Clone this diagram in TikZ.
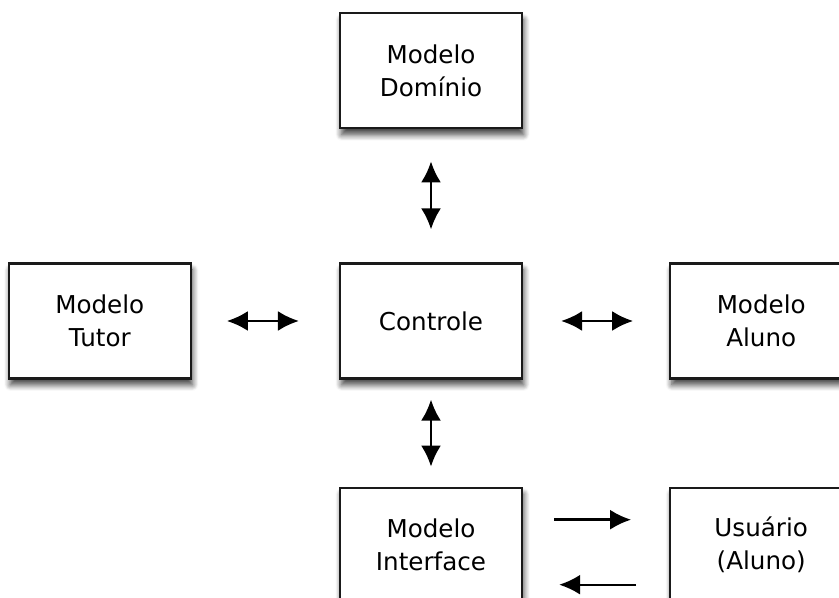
\documentclass[tikz,border=0pt]{standalone}
\usepackage{fontspec}
\setmainfont{DejaVu Sans}
\usepackage{xcolor}
\definecolor{darkgray}{HTML}{1A1A1A}
\usepackage{tikz}
\usetikzlibrary{positioning,arrows.meta,shadows.blur}

\begin{document}
\begin{tikzpicture}[font=\fontsize{12.3}{16.5}\selectfont,
		modulo/.style={
					rectangle, minimum width = 91pt, minimum height = 57.5pt, line width = 1.1pt,
					draw = darkgray, fill = white, align = center,
					blur shadow={shadow xshift=0.8pt, shadow yshift=-3.2pt, shadow blur steps=8, shadow blur radius=3pt, shadow opacity=75}},
		seta/.style={line width = 1.2pt, {Latex[length=10.5pt,width=10pt]}-{Latex[length=10.5pt,width=10pt]}},
		setadir/.style={line width = 1.2pt, -{Latex[length=10.5pt,width=10pt]}}]
		\useasboundingbox (-215.5pt,-138.5pt) rectangle (204pt,160.5pt);
		\node (C) [modulo] {Controle};
		\node (D) [modulo, above=66.5pt of C] {Modelo\\Domínio};
		\node (T) [modulo, left=73.5pt of C] {Modelo\\Tutor};
		\node (A) [modulo, right=73pt of C] {Modelo\\Aluno};
		\node (I) [modulo, below=53.5pt of C] {Modelo\\Interface};
		\node (U) [modulo, right=73pt of I] {Usuário\\(Aluno)};
		% conexoes
		\draw [seta, shorten <=16pt, shorten >=16.5pt] (D) -- (C);
		\draw [seta, shorten <=10pt, shorten >=10pt] (C) -- (I);
		\draw [seta, shorten <=17.5pt, shorten >=20pt] (T) -- (C);
		\draw [seta, shorten <=19pt, shorten >=18pt] (C) -- (A);
		\draw [setadir, shorten <=15.5pt, shorten >=19pt] ([yshift=12.75pt]I.east) -- ([yshift=12.75pt]U.west);
		\draw [setadir, shorten <=16.5pt, shorten >=18pt] ([yshift=-19.75pt]U.west) -- ([yshift=-19.75pt]I.east);
	\end{tikzpicture}
\end{document}
